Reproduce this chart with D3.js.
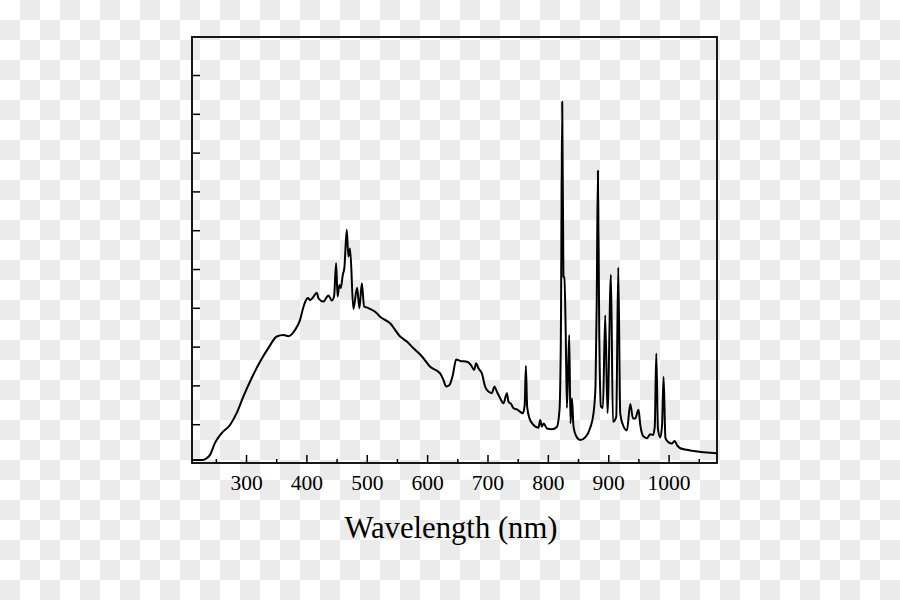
<!DOCTYPE html>
<html>
<head>
<meta charset="utf-8">
<script src="https://cdn.jsdelivr.net/npm/d3@7"></script>
<style>
  html, body { margin: 0; padding: 0; background: #fff; }
  svg { display: block; }
</style>
</head>
<body>
<svg id="chart" width="900" height="600"></svg>
<script>
// Wavelength (nm) and relative intensity
const wavelength = [210.5,220.4,228.7,235.4,240.3,248.6,259.7,273.5,284.6,295.5,309.4,323.2,336.9,350.9,361.8,370.1,381.2,389.5,394.5,399.5,402.8,406.1,411.5,417.2,420.2,428.1,436.4,442.0,445.9,449.2,451.7,454.6,457.0,460.3,462.9,466.9,469.6,472.4,477.8,484.0,487.8,491.9,495.6,500.1,505.5,513.8,522.1,538.7,555.3,566.4,577.3,585.6,593.9,605.0,616.1,621.6,627.0,631.5,637.0,642.6,648.1,654.7,665.8,672.4,677.9,681.2,685.0,690.7,696.1,701.6,707.3,711.6,715.5,721.0,726.5,732.1,734.8,739.2,743.1,748.7,754.2,758.6,761.6,763.6,765.7,769.6,776.2,784.5,787.3,790.1,793.1,798.4,806.7,814.9,819.3,821.6,823.8,825.8,827.4,829.6,831.6,835.4,837.5,839.9,842.5,848.1,853.6,861.9,870.2,875.6,879.0,881.0,882.9,885.1,887.9,891.2,895.0,898.8,904.5,907.8,913.3,916.6,919.9,924.4,931.0,936.5,941.0,944.8,950.2,953.1,958.5,964.2,969.6,974.1,977.1,979.6,982.4,986.2,989.2,991.7,994.8,1000.0,1005.6,1009.9,1013.9,1019.4,1030.4,1044.2,1058.0,1080.2];
const intensity = [0.008,0.008,0.008,0.013,0.021,0.052,0.077,0.098,0.129,0.171,0.219,0.261,0.296,0.326,0.330,0.327,0.343,0.369,0.399,0.420,0.425,0.420,0.428,0.439,0.424,0.416,0.432,0.419,0.430,0.515,0.429,0.459,0.451,0.485,0.503,0.601,0.532,0.553,0.397,0.452,0.399,0.463,0.403,0.401,0.397,0.390,0.377,0.360,0.326,0.313,0.296,0.284,0.270,0.248,0.238,0.231,0.214,0.197,0.201,0.227,0.267,0.263,0.261,0.253,0.240,0.257,0.244,0.231,0.197,0.184,0.180,0.197,0.184,0.167,0.154,0.180,0.158,0.152,0.141,0.138,0.132,0.128,0.149,0.250,0.145,0.115,0.098,0.091,0.111,0.094,0.102,0.089,0.087,0.093,0.137,0.335,0.931,0.480,0.479,0.335,0.142,0.330,0.102,0.167,0.094,0.066,0.059,0.066,0.091,0.128,0.201,0.420,0.753,0.343,0.146,0.142,0.381,0.129,0.485,0.106,0.119,0.504,0.128,0.098,0.084,0.152,0.115,0.115,0.137,0.098,0.068,0.064,0.074,0.072,0.093,0.282,0.088,0.066,0.098,0.222,0.064,0.053,0.050,0.057,0.046,0.038,0.034,0.030,0.028,0.025];

const xMajorTicks = [300,400,500,600,700,800,900,1000];
const xMinorTicks = [250,350,450,550,650,750,850,950,1050];
const yTicks = [0.1,0.2,0.3,0.4,0.5,0.6,0.7,0.8,0.9,1.0];
const xTitle = "Wavelength (nm)";

const svg = d3.select("#chart");

// checkerboard (transparent background look)
const defs = svg.append("defs");
const pat = defs.append("pattern").attr("id","checker")
  .attr("width",40).attr("height",40).attr("patternUnits","userSpaceOnUse");
pat.append("rect").attr("width",40).attr("height",40).attr("fill","#ffffff");
pat.append("rect").attr("x",20).attr("y",0).attr("width",20).attr("height",20).attr("fill","#ebebeb");
pat.append("rect").attr("x",0).attr("y",20).attr("width",20).attr("height",20).attr("fill","#ebebeb");
svg.append("rect").attr("width",900).attr("height",600).attr("fill","url(#checker)");

const L = 192, R = 717, T = 37, B = 463;
const x = d3.scaleLinear().domain([210.5, 1080.2]).range([L, R]);
const y = d3.scaleLinear().domain([0, 1.098]).range([B, T]);

const data = wavelength.map((w,i)=>({w, v: intensity[i]}));

const g = svg.append("g");

// spectrum line
const line = d3.line().x(d=>x(d.w)).y(d=>y(d.v)).curve(d3.curveMonotoneX);
g.append("path").datum(data).attr("d",line)
  .attr("fill","none").attr("stroke","#000").attr("stroke-width",2)
  .attr("stroke-linejoin","round");

// x axis ticks (inward)
const xAxisMajor = d3.axisBottom(x).tickValues(xMajorTicks).tickSizeInner(-8).tickSizeOuter(0).tickPadding(12)
  .tickFormat(d3.format("d"));
const xAxisMinor = d3.axisBottom(x).tickValues(xMinorTicks).tickSizeInner(-4).tickSizeOuter(0).tickFormat("");
const gx = g.append("g").attr("transform",`translate(0,${B})`).call(xAxisMajor);
const gxm = g.append("g").attr("transform",`translate(0,${B})`).call(xAxisMinor);
[gx,gxm].forEach(a=>{
  a.select(".domain").remove();
  a.selectAll(".tick line").attr("stroke","#000").attr("stroke-width",1.5);
});
gx.selectAll(".tick text").attr("fill","#000")
  .style("font-family","'Liberation Serif', 'Times New Roman', serif")
  .style("font-size","21.5px");

// y axis ticks (inward, no labels)
const yAxis = d3.axisLeft(y).tickValues(yTicks).tickSizeInner(-8).tickSizeOuter(0).tickFormat("");
const gy = g.append("g").attr("transform",`translate(${L},0)`).call(yAxis);
gy.select(".domain").remove();
gy.selectAll(".tick line").attr("stroke","#000").attr("stroke-width",1.5);

// frame
g.append("rect").attr("x",L).attr("y",T).attr("width",R-L).attr("height",B-T)
  .attr("fill","none").attr("stroke","#000").attr("stroke-width",1.8);

// axis title
svg.append("text").attr("x",451).attr("y",538).attr("text-anchor","middle")
  .style("font-family","'Liberation Serif', 'Times New Roman', serif")
  .style("font-size","30.7px").attr("fill","#000").text(xTitle);
</script>
</body>
</html>
